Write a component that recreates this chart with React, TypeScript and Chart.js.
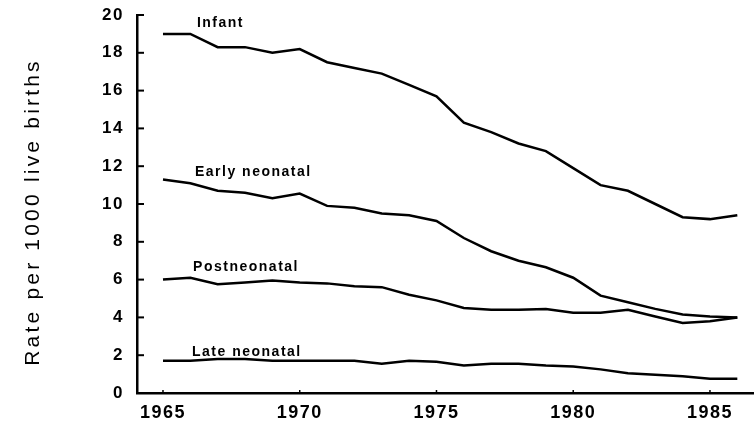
import React, { useEffect, useRef } from "react";
import { Chart, registerables } from "chart.js";

Chart.register(...registerables);

const years = [1965, 1966, 1967, 1968, 1969, 1970, 1971, 1972, 1973, 1974, 1975, 1976, 1977, 1978, 1979, 1980, 1981, 1982, 1983, 1984, 1985, 1986];
const infant = [19.0, 19.0, 18.3, 18.3, 18.0, 18.2, 17.5, 17.2, 16.9, 16.3, 15.7, 14.3, 13.8, 13.2, 12.8, 11.9, 11.0, 10.7, 10.0, 9.3, 9.2, 9.4];
const earlyNeonatal = [11.3, 11.1, 10.7, 10.6, 10.3, 10.55, 9.9, 9.8, 9.5, 9.4, 9.1, 8.2, 7.5, 7.0, 6.65, 6.1, 5.15, 4.8, 4.45, 4.15, 4.05, 4.0];
const postneonatal = [6.0, 6.1, 5.75, 5.85, 5.95, 5.85, 5.8, 5.65, 5.6, 5.2, 4.9, 4.5, 4.4, 4.4, 4.45, 4.25, 4.25, 4.4, 4.05, 3.7, 3.8, 4.0];
const lateNeonatal = [1.7, 1.7, 1.8, 1.8, 1.7, 1.7, 1.7, 1.7, 1.55, 1.7, 1.65, 1.45, 1.55, 1.55, 1.45, 1.4, 1.25, 1.05, 0.97, 0.88, 0.76, 0.76];

const seriesNames = ["Infant", "Early neonatal", "Postneonatal", "Late neonatal"];
const labelAnchorsX = [1966.24, 1966.17, 1966.1, 1966.06];
const labelAnchorsY = [19.58, 11.66, 6.65, 2.16];
const xTickValues = [1965, 1970, 1975, 1980, 1985];
const yTitle = "Rate per 1000 live births";

export default function App() {
  const ref = useRef<HTMLCanvasElement | null>(null);

  useEffect(() => {
    const canvas = ref.current;
    if (!canvas) return;
    const allSeries = [infant, earlyNeonatal, postneonatal, lateNeonatal];
    const textPlugin = {
      id: "plotterText",
      beforeDraw(chart: any) {
        (chart.ctx as any).letterSpacing = "1.5px";
      },
      afterDraw(chart: any) {
        const ctx = chart.ctx;
        const xs = chart.scales.x;
        const ys = chart.scales.y;
        const area = chart.chartArea;
        ctx.save();
        ctx.strokeStyle = "#000";
        ctx.lineWidth = 2;
        for (let v = 0; v <= 20; v += 2) {
          const py = ys.getPixelForValue(v);
          ctx.beginPath();
          ctx.moveTo(area.left, py);
          ctx.lineTo(area.left + 7, py);
          ctx.stroke();
        }
        ctx.lineWidth = 1.5;
        for (const v of xTickValues) {
          const px = xs.getPixelForValue(v);
          ctx.beginPath();
          ctx.moveTo(px, area.bottom);
          ctx.lineTo(px, area.bottom - 3);
          ctx.stroke();
        }
        ctx.fillStyle = "#000";
        (ctx as any).letterSpacing = "1.5px";
        ctx.font = "bold 14px 'Liberation Sans', Arial, sans-serif";
        ctx.textAlign = "left";
        ctx.textBaseline = "middle";
        seriesNames.forEach((name, i) => {
          ctx.fillText(name, xs.getPixelForValue(labelAnchorsX[i]), ys.getPixelForValue(labelAnchorsY[i]));
        });
        (ctx as any).letterSpacing = "3.2px";
        ctx.font = "21px 'Liberation Sans', Arial, sans-serif";
        ctx.textAlign = "center";
        ctx.translate(33, 212);
        ctx.rotate(-Math.PI / 2);
        ctx.fillText(yTitle, 0, 0);
        ctx.restore();
        (ctx as any).letterSpacing = "0px";
      },
    };

    const chart = new Chart(canvas, {
      type: "line",
      data: {
        datasets: allSeries.map((s, i) => ({
          label: seriesNames[i],
          data: years.map((yr, j) => ({ x: yr, y: s[j] })),
          borderColor: "#000",
          borderWidth: 2.5,
          pointRadius: 0,
          tension: 0,
          fill: false,
        })),
      },
      options: {
        animation: false,
        responsive: false,
        layout: { padding: { top: 15, right: 0, bottom: 0, left: 0 } },
        plugins: { legend: { display: false }, tooltip: { enabled: false } },
        scales: {
          x: {
            type: "linear",
            min: 1964.05,
            max: 1986.61,
            afterBuildTicks(scale: any) {
              scale.ticks = xTickValues.map((v) => ({ value: v }));
            },
            afterFit(scale: any) {
              scale.height = 32;
              scale.paddingLeft = 0;
              scale.paddingRight = 0;
            },
            grid: { display: false, drawTicks: false },
            border: { display: true, color: "#000", width: 2.5 },
            ticks: {
              color: "#000",
              padding: 9,
              maxRotation: 0,
              font: { family: "'Liberation Sans', Arial, sans-serif", size: 18, weight: "bold" },
              callback: (v: any) => String(v),
            },
          },
          y: {
            min: 0,
            max: 20,
            afterFit(scale: any) {
              scale.width = 137;
              scale.paddingTop = 0;
              scale.paddingBottom = 0;
            },
            grid: { display: false, drawTicks: false },
            border: { display: true, color: "#000", width: 2.5 },
            ticks: {
              stepSize: 2,
              color: "#000",
              padding: 13,
              font: { family: "'Liberation Sans', Arial, sans-serif", size: 17, weight: "bold" },
            },
          },
        },
      },
      plugins: [textPlugin],
    } as any);
    return () => chart.destroy();
  }, []);

  return (
    <div style={{ position: "fixed", left: 0, top: 0, width: 754, height: 425, background: "#fff" }}>
      <canvas ref={ref} width={754} height={425} />
    </div>
  );
}
